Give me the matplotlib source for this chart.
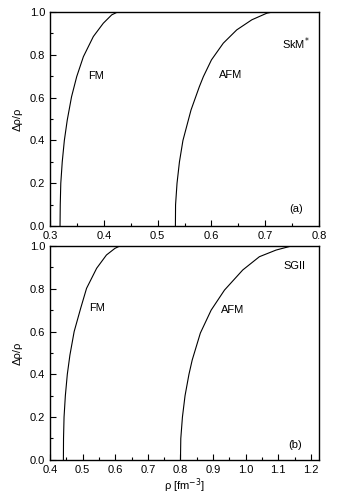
import matplotlib
matplotlib.use("Agg")
import matplotlib.pyplot as plt
from matplotlib.ticker import MultipleLocator, FormatStrFormatter

plt.rcParams['font.family'] = ['Liberation Sans', 'DejaVu Sans']
plt.rcParams['font.size'] = 8

# panel (a) SkM*  -- (delta rho / rho, rho) pairs
fm_a_y = [0.0, 0.1, 0.2, 0.3, 0.4, 0.495, 0.604, 0.698, 0.791, 0.885, 0.947, 0.986, 1.0]
fm_a_x = [0.3186, 0.319, 0.320, 0.3227, 0.3266, 0.332, 0.340, 0.3496, 0.362, 0.3805, 0.399, 0.4146, 0.426]
afm_a_y = [0.0, 0.1, 0.2, 0.3, 0.4, 0.542, 0.651, 0.698, 0.776, 0.854, 0.916, 0.963, 0.994, 1.0]
afm_a_x = [0.533, 0.5333, 0.536, 0.5405, 0.547, 0.562, 0.5775, 0.585, 0.600, 0.622, 0.647, 0.675, 0.703, 0.715]

# panel (b) SGII
fm_b_y = [0.0, 0.1, 0.2, 0.3, 0.4, 0.49, 0.60, 0.709, 0.802, 0.896, 0.958, 0.989, 1.0]
fm_b_x = [0.441, 0.4414, 0.443, 0.447, 0.453, 0.461, 0.474, 0.494, 0.512, 0.543, 0.573, 0.599, 0.614]
afm_b_y = [0.0, 0.1, 0.2, 0.3, 0.4, 0.467, 0.593, 0.70, 0.794, 0.888, 0.95, 0.981, 1.0]
afm_b_x = [0.800, 0.801, 0.806, 0.814, 0.826, 0.836, 0.861, 0.894, 0.935, 0.991, 1.042, 1.093, 1.14]

fig = plt.figure(figsize=(3.38, 4.95), dpi=100)
ax1 = fig.add_axes([0.148, 0.543, 0.796, 0.433])
ax2 = fig.add_axes([0.148, 0.071, 0.796, 0.432])

for ax in (ax1, ax2):
    ax.set_ylim(0, 1.0)
    ax.yaxis.set_major_locator(MultipleLocator(0.2))
    ax.yaxis.set_minor_locator(MultipleLocator(0.1))
    ax.xaxis.set_major_locator(MultipleLocator(0.1))
    ax.xaxis.set_minor_locator(MultipleLocator(0.05))
    ax.tick_params(which='both', direction='in', top=False, right=False, labelsize=8)
    ax.tick_params(which='major', length=4, width=0.8)
    ax.tick_params(which='minor', length=2, width=0.8)
    ax.yaxis.set_major_formatter(FormatStrFormatter('%.1f'))
    ax.xaxis.set_major_formatter(FormatStrFormatter('%.1f'))
    for s in ax.spines.values():
        s.set_linewidth(1.0)
    ax.set_ylabel('Δρ/ρ', fontsize=8, labelpad=5)

ax1.plot(fm_a_x, fm_a_y, color='black', lw=0.8)
ax1.plot(afm_a_x, afm_a_y, color='black', lw=0.8)
ax1.set_xlim(0.3, 0.8)
ax1.text(0.371, 0.70, 'FM', va='center')
ax1.text(0.6135, 0.705, 'AFM', va='center')
ax1.text(0.731, 0.85, r'SkM$^{*}$', va='center')
ax1.text(0.744, 0.078, '(a)', va='center')

ax2.plot(fm_b_x, fm_b_y, color='black', lw=0.8)
ax2.plot(afm_b_x, afm_b_y, color='black', lw=0.8)
ax2.set_xlim(0.4, 1.225)
ax2.text(0.519, 0.71, 'FM', va='center')
ax2.text(0.925, 0.70, 'AFM', va='center')
ax2.text(1.117, 0.906, 'SGII', va='center')
ax2.text(1.131, 0.07, '(b)', va='center')
ax2.set_xlabel('ρ [fm$^{-3}$]', fontsize=8, labelpad=1)

fig.savefig('out.png', dpi=100)
